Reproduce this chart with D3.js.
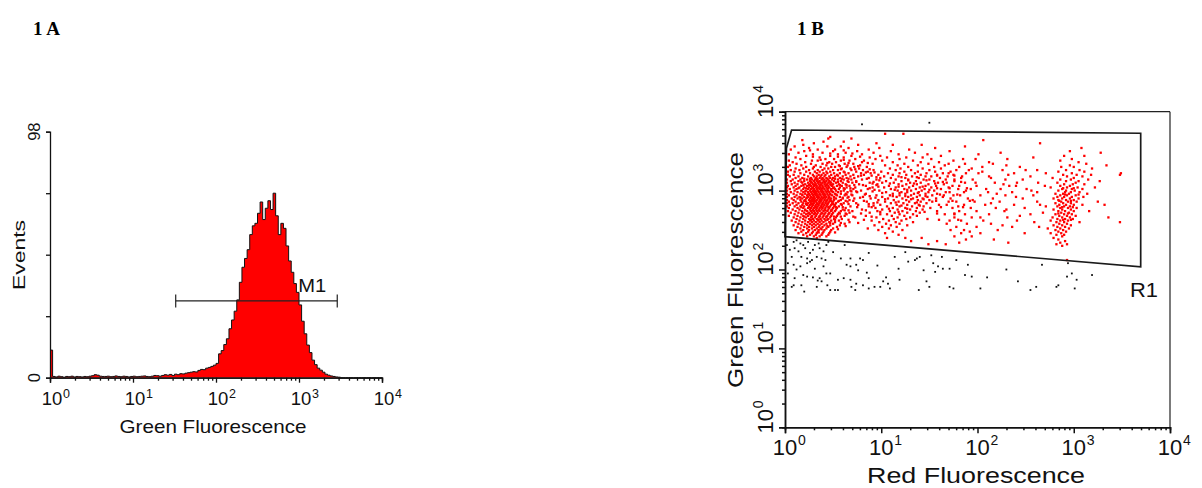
<!DOCTYPE html>
<html><head><meta charset="utf-8">
<script src="https://cdn.jsdelivr.net/npm/d3@7"></script>
<style>body{margin:0;background:#fff}svg{display:block}</style>
</head><body><svg id="c" width="1202" height="488"></svg>
<script>
// ---------- data ----------
const panelTitles = ["1 A", "1 B"];
const decadeTicks = [1, 10, 100, 1000, 10000];
const decadeExponents = ["0", "1", "2", "3", "4"];
// Histogram (panel A): events per channel bin, 32 bins per decade from 10^0 to 10^4
const histBinsPerDecade = 32;
const histCounts = [
  11,
  0.5,0.3,0.6,0.4,0.2,0.5,0.4,0.6,0.3,0.5,0.4,0.3,0.5,0.4,0.6,0.8,1.2,1.0,0.6,0.5,
  0.5,0.6,0.4,0.5,0.7,0.5,0.4,0.6,0.5,0.3,0.5,0.6,0.4,0.5,0.6,0.7,0.5,0.4,0.6,0.9,
  0.8,0.6,0.9,1.2,1.0,1.3,0.9,1.4,1.2,1.6,1.5,1.8,2.0,2.2,
  2.4,2.3,2.9,3.3,3.2,3.8,4.1,4.5,5.0,5.7,
  9.5,10.8,13.2,15.5,19.5,23,26.5,31,38,44,
  47.5,51,57,60.5,61.5,65.5,70,63,67.5,70.5,
  67,73.5,64.5,57,61.5,59.5,52.5,46.5,42,37.5,
  34,29,22.5,17.5,13,10,7,5.2,3.8,3.0,
  2.2,1.4,1.0,0.7,0.5,0.3,0.2,
  0,0,0,0,0,0,0,0,0,0,0,0,0,0,0,0
];
const histYTicks = [0, 24.5, 49, 73.5, 98];
const histYLabels = ["0", "", "", "", "98"];
const histYMax = 98;
const markerName = "M1";
const markerRange = [32.7, 2890];
const markerLevel = 30.6;
// Gate R1 (panel B) vertices: red fluorescence, green fluorescence
const gateName = "R1";
const gateX = [1.0, 1.035, 1.17, 4960, 4960];
const gateY = [261, 3440, 5860, 5330, 108];
// Dot plot events, per scan row:
// "log10(green)*100 : log10(red)*100 values"
const eventRows = [
"386:150","384:80",
"372:104 123","368:47","366:45 69","364:18 206","362:40 61","360:30 95 265","358:19 76 112 142",
"356:10 44 58 187","354:25 66 98 156 308","352:6 34 52 87 129","350:20 50 75 110 171 296",
"348:14 39 63 92 135 224 328","346:4 29 55 80 118 148 201","344:22 47 69 99 162 290 311",
"342:11 36 61 88 106 126 143 258","340:16 42 51 73 94 119 152 185 298",
"338:4 28 34 58 67 82 101 133 175 286","336:8 21 46 53 80 112 141 160 212 305",
"334:12 27 39 49 62 71 91 124 149 170 313","332:5 17 32 43 56 65 78 104 117 138 166 230 296 334",
"330:3 22 30 37 48 52 64 72 85 128 155 181 287 300","328:11 19 29 41 45 59 68 77 109 120 143 162 194 319",
"326:6 15 25 34 39 50 55 69 81 92 115 131 150 178 250 292 306",
"324:3 10 22 31 36 43 47 61 74 86 100 124 138 156 172 205 284 311",
"322:16 26 33 40 44 51 57 66 79 89 107 119 135 147 164 188 271 298 349",
"320:3 9 20 29 35 38 42 48 54 63 71 82 97 112 126 141 158 175 232 289 303 318 348",
"318:5 14 24 30 33 37 41 46 52 60 68 76 103 118 132 146 152 169 293 309",
"316:11 18 27 32 36 39 43 47 50 57 64 72 87 99 110 125 139 161 183 214 278 300",
"314:2 8 16 23 28 31 34 38 41 45 49 55 61 69 80 95 115 128 144 150 167 247 286 297 315",
"312:6 14 20 26 30 33 36 40 43 46 51 58 65 74 105 121 136 155 176 292 305 327",
"310:2 10 18 24 28 31 34 37 39 42 45 48 53 60 70 88 101 113 130 141 159 198 263 283 302",
"308:7 13 21 26 29 32 35 38 41 44 47 50 56 63 77 96 118 126 137 149 165 227 290 299 311",
"306:3 11 17 23 27 30 33 36 39 42 45 49 54 59 67 84 108 122 133 146 157 181 240 286 296",
"304:2 9 15 20 25 29 32 35 37 40 43 46 51 57 64 73 91 103 115 129 140 152 170 276 293 304 322",
"302:5 12 19 24 27 30 33 36 38 41 44 48 52 56 62 71 86 110 124 136 145 162 209 288 298 309",
"300:2 10 17 22 26 29 31 34 37 39 42 45 48 53 61 68 79 98 117 131 142 155 188 256 284 292 301",
"298:6 13 19 24 27 30 32 35 38 40 43 46 50 55 65 75 105 121 127 139 149 167 291 297 306",
"296:2 9 16 21 25 28 31 33 36 39 41 44 47 52 58 63 84 112 125 134 146 158 220 281 289 295 314",
"294:4 12 18 23 26 29 32 34 37 40 42 45 49 54 62 70 95 109 119 131 140 153 175 286 293 302",
"292:2 10 15 20 24 27 30 33 35 38 41 43 46 51 57 66 81 101 116 128 137 148 164 240 283 290 298 310",
"290:7 13 18 22 26 29 31 34 37 39 42 45 48 53 60 72 89 107 122 133 143 157 279 288 296 305",
"288:2 9 16 21 25 28 30 33 36 38 41 44 47 51 58 67 97 113 126 138 150 195 284 292 300",
"286:4 11 17 22 26 29 32 35 37 40 43 46 50 55 65 85 104 118 129 141 153 170 262 287 294 303 325",
"284:2 8 14 19 24 27 30 33 36 39 42 45 49 53 61 74 92 110 123 135 147 214 281 289 297",
"282:5 12 18 23 26 29 32 35 38 41 44 48 52 59 76 99 116 127 139 160 285 292 300 309 332",
"280:2 10 16 20 25 28 31 34 37 40 43 47 51 56 68 87 106 119 132 144 180 271 283 290 296",
"278:4 13 19 24 27 30 33 36 39 42 46 50 54 63 94 112 125 137 151 286 294 303",
"276:8 15 21 26 29 32 35 38 41 45 49 53 60 80 101 117 130 143 230 279 288 297",
"274:3 11 18 23 27 30 33 36 40 44 48 52 58 70 96 109 122 136 158 284 291 300 316",
"272:6 14 20 25 28 31 34 38 42 46 50 56 67 88 114 127 140 268 287 295",
"270:10 17 22 26 30 33 37 41 45 49 55 64 99 106 119 133 176 281 290 298",
"268:4 13 19 24 28 32 36 40 44 48 54 62 84 111 124 137 244 285 293 302",
"266:9 16 22 27 31 35 39 43 47 53 73 95 117 130 203 278 288 296 336",
"264:12 19 25 29 33 37 41 45 51 59 102 113 126 148 283 291 299",
"262:7 15 21 26 30 34 38 42 48 56 90 108 121 276 286 294",
"260:11 18 24 28 32 36 40 46 52 67 98 115 133 259 282 290 306 348",
"258:14 21 26 30 34 38 43 50 62 105 119 285 293",
"256:9 17 23 28 32 36 41 47 57 93 110 127 226 279 288 297",
"254:13 20 25 30 35 39 45 54 101 116 283 291",
"252:16 23 28 33 37 43 50 86 108 273 286 295",
"250:11 19 25 31 35 41 48 97 122 281 289",
"248:17 24 29 34 40 47 112 192 284 292",
"246:14 22 28 33 39 46 104 276 287",
"244:19 26 32 38 45 118 282 290",
"242:23 30 36 43 288","240:33 106 125 142 279","238:284","236:131 158 291","234:286","232:149 167 282 293","230:288",
"315:20 26 33 39 44 52 59","311:17 27 35 41 47 55 66","307:19 25 31 37 43 48 57 72",
"303:14 22 28 34 39 45 50 61","299:21 29 33 38 44 49 58 69","295:18 24 30 36 41 47 53 64",
"291:16 23 28 35 40 46 51 60","287:20 27 31 37 43 48 56 71","283:22 28 34 39 44 50 58",
"279:17 25 32 38 45 53","275:21 29 35 42 48 62","271:24 31 39 46 57","267:20 28 36 43 51","263:27 35 44",
"351:26 61","347:47 70","343:29 55 78","339:37 61","335:44 66 86","331:57 76","327:58 73 88",
"323:62 84 93","319:55 79 90","315:66 85","311:74 92","307:64 81 95","303:68 88","299:74 91",
"295:69 83","291:65 78 94","287:63 82","283:66 87","279:60 75 90","275:66 84","271:63 79",
"267:58 71 90","263:52 66 82","259:47 58 76","255:44 63","251:38 55","247:35 52",
"317:95 121 137","313:98 128 147","309:91 109 134 156","305:97 118 143","301:93 114 127 150",
"297:101 119 138","293:88 112 125 146","289:104 131 144","285:96 115 137","281:92 121 140",
"277:108 127","273:99 118 145",
"319:158 176","311:164 183","303:158 171 189","295:161 179","287:157 174 192","279:162 185",
"271:158 176","263:160 180",
"303:289 300","295:291 305","287:285 297","279:288 299","271:284 294","263:289 297",
"340:198 231","334:187 216","330:205 244","326:191 226 262","322:170 201 238","318:184 212 255",
"314:176 195 229","310:168 187 218 241","306:174 199 233 270","302:180 193 224 251",
"298:171 186 211 236 262","294:165 182 203 229 258","290:172 190 216 247","286:178 197 223",
"282:168 186 208 238 265","278:174 193 219 249","274:181 199 228","270:166 187 212 255",
"266:176 194 231","262:171 183 206 241","258:168 189 214","254:178 199 236 264",
"250:172 186 221","246:183 203 249","242:176 194","238:188 217","234:181 232",
"237:12","235:9 24 45","233:16 35","231:2 19 31 43 62","227:10 21 36","225:5 29","223:14 40",
"222:50 125","221:26 87","218:152","216:7 17 33 114 140 163","214:23 38 58 68 78 137",
"212:28 42 81 135 178 293","210:26 128","208:3 23 154 294","206:9 64 74 190 267","205:96",
"204:16 40 68 159","201:31 118 164 171","200:12 230","199:76 144","197:156","196:85",
"195:3 43 47 298","193:19 187 319","191:23 194 293","190:29 105 210","189:10 36 61 87",
"187:55 68 119 303","186:34","185:38 102 147 242","182:74 107","180:9 17 44 81 284",
"178:7 33 69 93 99 150 171 261 282","176:87 109 175 203 301","174:47 52 55 73 139 255","172:20"
];

// ---------- drawing ----------
const svg = d3.select("#c");
const FONT = "'Liberation Sans', Arial, sans-serif";
const SERIF = "'Liberation Serif', 'Times New Roman', serif";

svg.append("text").attr("x", 33).attr("y", 35).text(panelTitles[0])
  .attr("font-family", SERIF).attr("font-weight", "bold").attr("font-size", 19);
svg.append("text").attr("x", 797).attr("y", 35).text(panelTitles[1])
  .attr("font-family", SERIF).attr("font-weight", "bold").attr("font-size", 19);

const minorTicks = [];
for (let d = 0; d < 4; d++) for (let m = 2; m <= 9; m++) minorTicks.push(m * Math.pow(10, d));

function rtext(x, y, txt, size, len) {
  const t = svg.append("text").attr("transform", `translate(${x},${y}) rotate(-90)`)
    .attr("text-anchor", "middle").attr("font-family", FONT).attr("font-size", size).attr("fill", "#111").text(txt);
  if (len) t.attr("textLength", len).attr("lengthAdjust", "spacingAndGlyphs");
  return t;
}

// ----- Panel A: histogram -----
const xA = d3.scaleLog().domain([1, 10000]).range([50, 382]);
const yA = d3.scaleLinear().domain([0, histYMax]).range([377.7, 131.7]);

const histData = histCounts.map((c, i) => ({ lo: Math.pow(10, i / histBinsPerDecade), c }));
histData.push({ lo: 10000, c: 0 });
const area = d3.area().curve(d3.curveStepAfter).x(d => xA(d.lo)).y0(yA(0)).y1(d => yA(d.c));
const line = d3.line().curve(d3.curveStepAfter).x(d => xA(d.lo)).y(d => yA(d.c));
svg.append("path").datum(histData).attr("d", area).attr("fill", "#ff0000");
svg.append("path").datum(histData).attr("d", line).attr("fill", "none").attr("stroke", "#111").attr("stroke-width", 1);

const gAx = svg.append("g").attr("transform", `translate(0,${yA(0)})`);
gAx.call(d3.axisBottom(xA).tickValues(minorTicks).tickSize(3).tickFormat(""));
gAx.append("g").call(d3.axisBottom(xA).tickValues(decadeTicks).tickSize(5).tickFormat(""));
gAx.selectAll("path,line").attr("stroke", "#111").attr("stroke-width", 1.3);

const gAy = svg.append("g").attr("transform", `translate(${xA(1)},0)`);
gAy.call(d3.axisLeft(yA).tickValues(histYTicks).tickSize(4).tickFormat(""));
gAy.selectAll("path,line").attr("stroke", "#111").attr("stroke-width", 1.3);

decadeTicks.forEach((t, i) => {
  const x = xA(t);
  svg.append("text").attr("x", x + 2).attr("y", 405).attr("text-anchor", "middle")
    .attr("font-family", FONT).attr("font-size", 18.5).attr("fill", "#111").text("10");
  svg.append("text").attr("x", x + 13).attr("y", 398)
    .attr("font-family", FONT).attr("font-size", 12.5).attr("fill", "#111").text(decadeExponents[i]);
});
histYTicks.forEach((t, i) => { if (histYLabels[i]) rtext(39.5, yA(t), histYLabels[i], 16.5); });
rtext(25, 255, "Events", 17, 70);
svg.append("text").attr("x", 213).attr("y", 432.7).attr("text-anchor", "middle")
  .attr("font-family", FONT).attr("font-size", 18.5).attr("fill", "#111")
  .attr("textLength", 187).attr("lengthAdjust", "spacingAndGlyphs").text("Green Fluorescence");

// marker M1
const my = yA(markerLevel);
const mk = svg.append("g").attr("stroke", "#222").attr("stroke-width", 1.2);
mk.append("line").attr("x1", xA(markerRange[0])).attr("x2", xA(markerRange[1])).attr("y1", my).attr("y2", my);
markerRange.forEach(v => mk.append("line").attr("x1", xA(v)).attr("x2", xA(v)).attr("y1", my - 6.5).attr("y2", my + 6.5));
svg.append("text").attr("x", 298.3).attr("y", 291.7).attr("font-family", FONT).attr("font-size", 18.5)
  .attr("fill", "#111").attr("textLength", 28).attr("lengthAdjust", "spacingAndGlyphs").text(markerName);

// ----- Panel B: dot plot -----
const xB = d3.scaleLog().domain([1, 10000]).range([785, 1170]);
const yB = d3.scaleLog().domain([1, 10000]).range([427.3, 111.7]);

const events = [];
eventRows.forEach(r => {
  const [yy, xs] = r.split(":");
  xs.trim().split(/\s+/).forEach(xx => events.push({ x: Math.pow(10, +xx / 100), y: Math.pow(10, +yy / 100) }));
});
const gatePx = gateX.map((gx, i) => [xB(gx), yB(gateY[i])]);

svg.append("g").selectAll("rect").data(events).join("rect")
  .each(function (d) { d.inGate = d3.polygonContains(gatePx, [xB(d.x), yB(d.y)]); })
  .attr("x", d => xB(d.x) - (d.inGate ? 1.15 : 0.9)).attr("y", d => yB(d.y) - (d.inGate ? 1.15 : 0.9))
  .attr("width", d => d.inGate ? 2.3 : 1.8).attr("height", d => d.inGate ? 2.3 : 1.8)
  .attr("fill", d => d.inGate ? "#ff0000" : "#111");

svg.append("polygon").attr("points", gatePx.map(p => p.join(",")).join(" "))
  .attr("fill", "none").attr("stroke", "#1a1a1a").attr("stroke-width", 1.7);
svg.append("text").attr("x", 1130).attr("y", 296.7).attr("font-family", FONT).attr("font-size", 21)
  .attr("fill", "#111").attr("textLength", 28).attr("lengthAdjust", "spacingAndGlyphs").text(gateName);

// frame
svg.append("line").attr("x1", xB(1)).attr("x2", xB(10000)).attr("y1", yB(10000)).attr("y2", yB(10000))
  .attr("stroke", "#222").attr("stroke-width", 1.2);
svg.append("line").attr("x1", xB(10000)).attr("x2", xB(10000)).attr("y1", yB(10000)).attr("y2", yB(1))
  .attr("stroke", "#222").attr("stroke-width", 1.2);

const gBx = svg.append("g").attr("transform", `translate(0,${yB(1)})`);
gBx.call(d3.axisBottom(xB).tickValues(minorTicks).tickSize(3).tickFormat(""));
gBx.append("g").call(d3.axisBottom(xB).tickValues(decadeTicks).tickSize(6).tickFormat(""));
gBx.selectAll("path,line").attr("stroke", "#111").attr("stroke-width", 1.5);

const gBy = svg.append("g").attr("transform", `translate(${xB(1)},0)`);
gBy.call(d3.axisLeft(yB).tickValues(minorTicks).tickSize(3).tickFormat(""));
gBy.append("g").call(d3.axisLeft(yB).tickValues(decadeTicks).tickSize(6).tickFormat(""));
gBy.selectAll("path,line").attr("stroke", "#111").attr("stroke-width", 1.5);

decadeTicks.forEach((t, i) => {
  const x = xB(t);
  svg.append("text").attr("x", x).attr("y", 455).attr("text-anchor", "middle")
    .attr("font-family", FONT).attr("font-size", 22).attr("fill", "#111").text("10");
  svg.append("text").attr("x", x + 13).attr("y", 445)
    .attr("font-family", FONT).attr("font-size", 14).attr("fill", "#111").text(decadeExponents[i]);
  const g = svg.append("g").attr("transform", `translate(773,${yB(t) - 6}) rotate(-90)`);
  g.append("text").attr("text-anchor", "middle").attr("font-family", FONT).attr("font-size", 22)
    .attr("fill", "#111").text("10");
  g.append("text").attr("x", 13).attr("y", -10).attr("font-family", FONT).attr("font-size", 14)
    .attr("fill", "#111").text(decadeExponents[i]);
});
rtext(743, 270, "Green Fluorescence", 22, 236);
svg.append("text").attr("x", 976).attr("y", 483).attr("text-anchor", "middle")
  .attr("font-family", FONT).attr("font-size", 22).attr("fill", "#111")
  .attr("textLength", 218).attr("lengthAdjust", "spacingAndGlyphs").text("Red Fluorescence");
</script></body></html>
